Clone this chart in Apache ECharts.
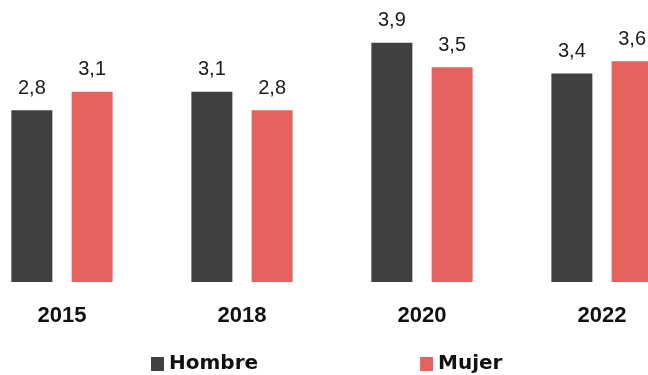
<!DOCTYPE html>
<html>
<head>
<meta charset="utf-8">
<style>
  html, body { margin: 0; padding: 0; background: #ffffff; overflow: hidden; width: 648px; height: 375px; }
  /* plot area is wider than the page; the outer bands fall outside the view */
  #chart { width: 720px; height: 375px; margin-left: -28px; }
</style>
<script src="https://cdn.jsdelivr.net/npm/echarts@6/dist/echarts.min.js"></script>
</head>
<body>
<div id="chart"></div>
<script>
// Survey years and average values by sex
const years = ['2015', '2018', '2020', '2022'];
const hombre = [2.8, 3.1, 3.9, 3.4];
const mujer = [3.1, 2.8, 3.5, 3.6];
const seriesNames = ['Hombre', 'Mujer'];

const colorHombre = '#404040';
const colorMujer = '#E4635E';

const fmt = p => p.value.toFixed(1).replace('.', ',');

const valueLabel = {
  show: true,
  position: 'top',
  distance: 12,
  formatter: fmt,
  fontFamily: '"Liberation Sans", Arial, sans-serif',
  fontSize: 20,
  color: '#1a1a1a'
};

const chart = echarts.init(document.getElementById('chart'), null, { renderer: 'canvas' });
chart.setOption({
  animation: false,
  backgroundColor: '#ffffff',
  grid: { left: 0, right: 0, top: 6, bottom: 93, containLabel: false },
  legend: {
    data: seriesNames,
    left: 174,
    top: 349,
    icon: 'rect',
    itemWidth: 13,
    itemHeight: 14,
    itemGap: 162,
    textStyle: {
      fontFamily: '"DejaVu Sans", sans-serif',
      fontWeight: 'bold',
      fontSize: 20,
      color: '#111111'
    }
  },
  xAxis: {
    type: 'category',
    data: years,
    axisLine: { show: false },
    axisTick: { show: false },
    axisLabel: {
      margin: 23,
      fontFamily: '"Liberation Sans", Arial, sans-serif',
      fontWeight: 'bold',
      fontSize: 22,
      color: '#111111'
    }
  },
  yAxis: {
    type: 'value',
    min: 0,
    max: 4.5,
    show: false,
    splitLine: { show: false }
  },
  series: [
    {
      name: seriesNames[0],
      type: 'bar',
      data: hombre,
      barWidth: 41,
      barGap: '47%',
      itemStyle: { color: colorHombre },
      label: valueLabel
    },
    {
      name: seriesNames[1],
      type: 'bar',
      data: mujer,
      barWidth: 41,
      itemStyle: { color: colorMujer },
      label: valueLabel
    }
  ]
});
</script>
</body>
</html>
